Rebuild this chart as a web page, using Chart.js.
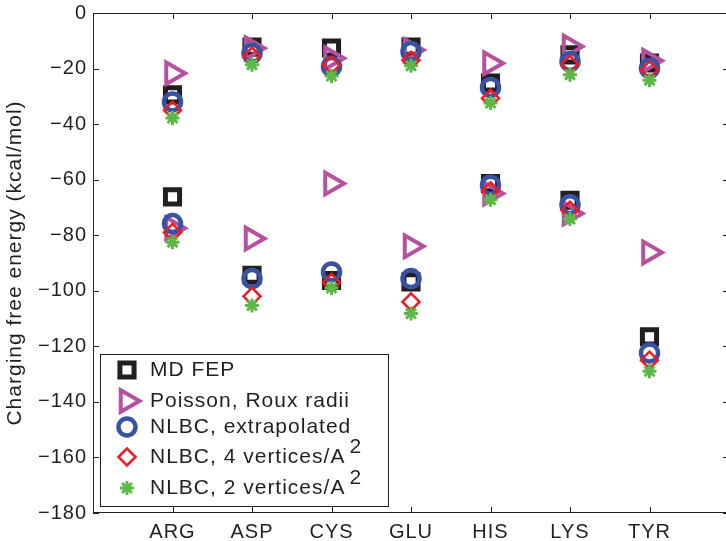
<!DOCTYPE html>
<html>
<head>
<meta charset="utf-8">
<script src="https://cdn.jsdelivr.net/npm/chart.js@4.4.1/dist/chart.umd.min.js"></script>
<style>
  html, body { margin: 0; padding: 0; background: #fff; overflow: hidden; }
  /* the original axes box runs a few pixels past the right edge of the picture */
  #wrap { width: 726px; height: 541px; overflow: hidden; }
</style>
</head>
<body>
<div id="wrap"><canvas id="chart" width="729" height="541"></canvas></div>
<script>
// residues on the x axis
const categories = ['ARG', 'ASP', 'CYS', 'GLU', 'HIS', 'LYS', 'TYR'];
const yTicks = [-180, -160, -140, -120, -100, -80, -60, -40, -20, 0];

// two states per residue: upper cluster and lower cluster (kcal/mol)
const mdFepUpper = [-29.5, -12.3, -12.6, -12.3, -25.2, -15.1, -18.0];
const mdFepLower = [-66.2, -94.4, -96.3, -96.8, -61.4, -67.4, -116.6];
const poissonUpper = [-21.7, -12.7, -16.3, -13.3, -18.1, -12.1, -17.2];
const poissonLower = [-77.5, -81.2, -61.4, -84.0, -65.0, -72.2, -86.2];
const extrapUpper = [-32.0, -14.5, -19.3, -13.9, -26.8, -17.5, -19.9];
const extrapLower = [-75.8, -95.6, -93.2, -95.6, -62.0, -69.0, -122.4];
const v4Upper = [-35.0, -15.5, -18.7, -17.0, -30.7, -18.5, -20.5];
const v4Lower = [-79.0, -102.0, -97.0, -104.0, -64.0, -71.0, -125.0];
const v2Upper = [-37.8, -18.6, -22.7, -19.0, -32.4, -22.2, -24.2];
const v2Lower = [-82.5, -105.3, -99.0, -108.2, -67.2, -74.2, -129.0];

const FONT = "'Liberation Sans', Arial, Helvetica, sans-serif";
const INK = '#231f20';

function points(upper, lower) {
  return categories.flatMap((c, i) => [{ x: i + 1, y: upper[i] }, { x: i + 1, y: lower[i] }]);
}

function series(label, sup, upper, lower, color, style, radius, border, rotation, order) {
  return {
    label: label,
    sup: sup,
    data: points(upper, lower),
    pointStyle: style,
    pointRadius: radius,
    pointRotation: rotation,
    pointBorderWidth: border,
    borderColor: color,
    backgroundColor: 'rgba(0,0,0,0)',
    showLine: false,
    clip: false,
    order: order
  };
}

const datasets = [
  series('MD FEP', '', mdFepUpper, mdFepLower, INK, 'rect', 10, 5, 0, 5),
  series('Poisson, Roux radii', '', poissonUpper, poissonLower, '#b5519f', 'triangle', 12.5, 4, 90, 4),
  series('NLBC, extrapolated', '', extrapUpper, extrapLower, '#3853a4', 'circle', 8.5, 4.5, 0, 3),
  series('NLBC, 4 vertices/A', '2', v4Upper, v4Lower, '#ed1c24', 'rectRot', 8.5, 2.5, 0, 2),
  series('NLBC, 2 vertices/A', '2', v2Upper, v2Lower, '#5cb947', 'star', 7, 3, 0, 1)
];

// the original text is a bit wider than Liberation Sans
const spacing = {
  id: 'spacing',
  beforeLayout(chart) { chart.ctx.letterSpacing = '1px'; },
  beforeDraw(chart) { chart.ctx.letterSpacing = '1px'; }
};

// fixed axis sizes, no extra room for the end labels
function fixBox(w, h) {
  return s => {
    if (w) s.width = w;
    if (h) s.height = h;
    s.paddingLeft = 0; s.paddingRight = 0; s.paddingTop = 0; s.paddingBottom = 0;
  };
}

// box and inward ticks like the original axes
const frame = {
  id: 'frame',
  beforeDatasetsDraw(chart) {
    const { ctx, chartArea: a, scales: { x, y } } = chart;
    ctx.save();
    ctx.strokeStyle = INK;
    ctx.lineWidth = 1;
    ctx.strokeRect(a.left + 0.5, a.top + 0.5, a.right - a.left - 1, a.bottom - a.top - 1);
    ctx.beginPath();
    for (let i = 1; i <= categories.length; i++) {
      const px = Math.round(x.getPixelForValue(i)) + 0.5;
      ctx.moveTo(px, a.bottom); ctx.lineTo(px, a.bottom - 6);
      ctx.moveTo(px, a.top); ctx.lineTo(px, a.top + 6);
    }
    yTicks.forEach(v => {
      const py = Math.round(y.getPixelForValue(v)) + 0.5;
      ctx.moveTo(a.left, py); ctx.lineTo(a.left + 6, py);
      ctx.moveTo(a.right, py); ctx.lineTo(a.right - 6, py);
    });
    ctx.stroke();
    ctx.restore();
  },
  afterDatasetsDraw(chart) {
    const ctx = chart.ctx;
    const a = chart.chartArea;
    const bx = a.left + 7, by = 354, bw = 288, bh = 152;
    const rows = [370, 401, 427, 457, 488];
    ctx.save();
    ctx.fillStyle = '#fff';
    ctx.fillRect(bx, by, bw, bh);
    ctx.strokeStyle = INK;
    ctx.lineWidth = 1;
    ctx.strokeRect(bx + 0.5, by + 0.5, bw, bh);
    datasets.forEach((ds, i) => {
      const yy = rows[i];
      ctx.strokeStyle = ds.borderColor;
      ctx.fillStyle = 'rgba(0,0,0,0)';
      ctx.lineWidth = ds.pointBorderWidth;
      Chart.helpers.drawPoint(ctx, {
        pointStyle: ds.pointStyle,
        radius: ds.pointRadius,
        rotation: ds.pointRotation,
        borderWidth: ds.pointBorderWidth
      }, bx + 27, yy);
      ctx.fillStyle = INK;
      ctx.font = '21px ' + FONT;
      ctx.textBaseline = 'middle';
      ctx.textAlign = 'left';
      ctx.fillText(ds.label, bx + 50, yy);
      if (ds.sup) {
        const w = ctx.measureText(ds.label).width;
        ctx.fillText(ds.sup, bx + 50 + w + 4, yy - 10);
      }
    });
    ctx.restore();
  }
};

new Chart(document.getElementById('chart'), {
  type: 'scatter',
  data: { datasets: datasets },
  options: {
    responsive: false,
    devicePixelRatio: 1,
    animation: false,
    events: [],
    layout: { autoPadding: false, padding: { top: 13, right: 0, left: 0, bottom: 0 } },
    plugins: { legend: { display: false }, tooltip: { enabled: false } },
    scales: {
      x: {
        type: 'linear',
        min: 0,
        max: 8,
        afterFit: fixBox(0, 28),
        afterBuildTicks: s => { s.ticks = categories.map((c, i) => ({ value: i + 1 })); },
        grid: { display: false, drawTicks: false },
        border: { display: false },
        ticks: {
          autoSkip: false,
          maxRotation: 0,
          padding: 7,
          color: INK,
          font: { family: FONT, size: 20 },
          callback: v => categories[v - 1] || ''
        }
      },
      y: {
        min: -180,
        max: 0,
        afterFit: fixBox(93, 0),
        afterBuildTicks: s => { s.ticks = yTicks.map(v => ({ value: v })); },
        grid: { display: false, drawTicks: false },
        border: { display: false },
        title: {
          display: true,
          text: 'Charging free energy (kcal/mol)',
          color: INK,
          font: { family: FONT, size: 21 },
          padding: { top: 3, bottom: 0 }
        },
        ticks: {
          padding: 6,
          color: INK,
          font: { family: FONT, size: 20 },
          callback: v => String(v).replace('-', '\u2212')
        }
      }
    }
  },
  plugins: [spacing, frame]
});
</script>
</body>
</html>
